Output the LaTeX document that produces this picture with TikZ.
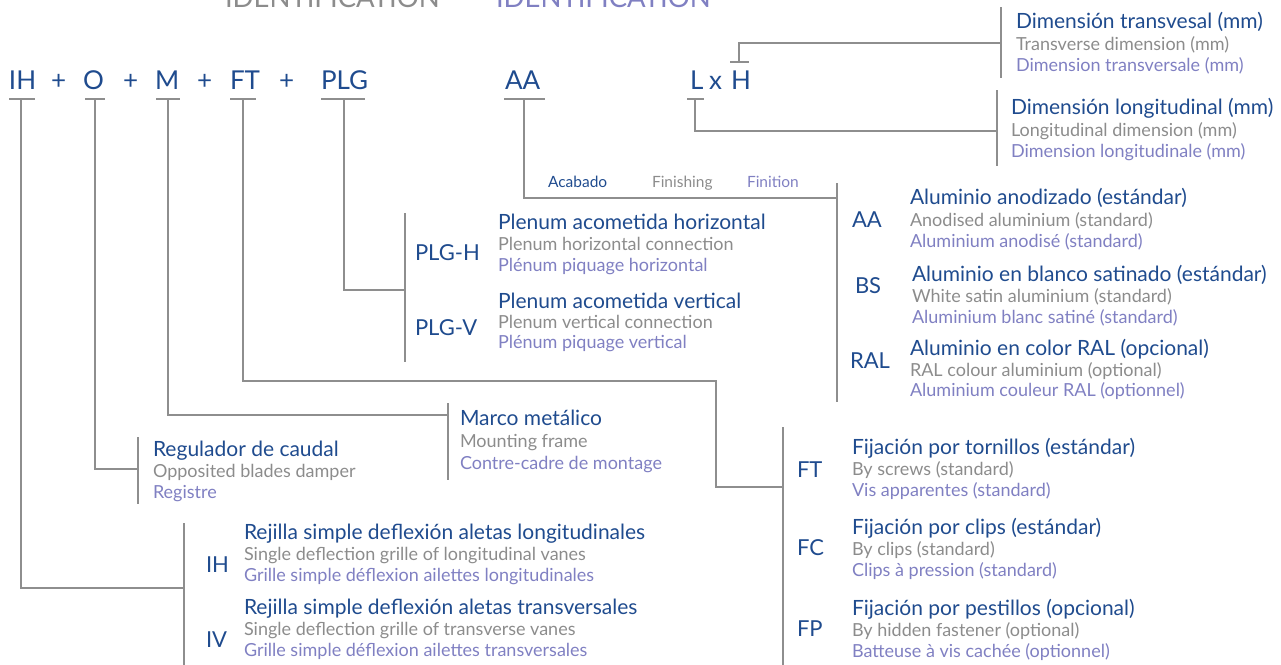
\documentclass[tikz,border=0pt]{standalone}
\usepackage{fontspec}
\setmainfont{Lato}
\definecolor{cblue}{HTML}{1F4B8E}
\definecolor{cgray}{HTML}{8C8C8C}
\definecolor{clav}{HTML}{8080C2}
\definecolor{cline}{HTML}{8E8E8E}
\begin{document}
\begin{tikzpicture}[x=1pt,y=-1pt,
  base/.style={anchor=base west,inner sep=0pt,outer sep=0pt},
  es/.style={base,text=cblue,font=\fontsize{21}{21}\selectfont},
  en/.style={base,text=cgray,font=\fontsize{18}{18}\selectfont},
  fr/.style={base,text=clav,font=\fontsize{18}{18}\selectfont},
  code/.style={base,text=cblue,font=\fontsize{26}{26}\selectfont},
  lab/.style={base,text=cblue,font=\fontsize{22}{22}\selectfont},
  small/.style={base,font=\fontsize{15.5}{15.5}\selectfont},
  ttl/.style={base,font=\fontsize{27.5}{27.5}\selectfont},
  ln/.style={draw=cline,line width=2.8pt,line join=miter}]
\useasboundingbox (0,0) rectangle (1281,664);
\clip (0,0) rectangle (1281,664);

% title (cut off at the top)
\node[ttl,text=cgray] (title1) at (225,7) {IDENTIFICATION};
\node[ttl,text=cgray] (title2) at (443,7) {-};
\node[ttl,text=clav] (title3) at (496,7) {IDENTIFICATION};

% top row of codes
\node[code] (cIH) at (9,89) {IH};
\node[code] (p1) at (51,89) {+};
\node[code] (cO) at (83,89) {O};
\node[code] (p2) at (123,89) {+};
\node[code] (cM) at (155,89) {M};
\node[code] (p3) at (197,89) {+};
\node[code] (cFT) at (230,89) {FT};
\node[code] (p4) at (279,89) {+};
\node[code] (cPLG) at (321,89) {PLG};
\node[code] (cAA) at (505,89) {AA};
\node[code] (cL) at (690,89) {L};
\node[code] (cx) at (709,89) {x};
\node[code] (cH) at (731,89) {H};

% T bars
\coordinate (aIH) at (9,99);   \coordinate (bIH) at (35,99);   \coordinate (sIH) at (21,99);
\coordinate (aO) at (85,99);   \coordinate (bO) at (105,99);   \coordinate (sO) at (95,99);
\coordinate (aM) at (156,99);  \coordinate (bM) at (180,99);   \coordinate (sM) at (168,99);
\coordinate (aFT) at (230,99); \coordinate (bFT) at (256,99);  \coordinate (sFT) at (243,99);
\coordinate (aPLG) at (321,99);\coordinate (bPLG) at (365,99); \coordinate (sPLG) at (344,99);
\coordinate (aAA) at (504,99); \coordinate (bAA) at (545,99);  \coordinate (sAA) at (524,99);
\coordinate (aL) at (687,99);  \coordinate (bL) at (704,99);   \coordinate (sL) at (695,99);
\coordinate (aH) at (730,62);  \coordinate (bH) at (749,62);   \coordinate (sH) at (739,62);
\foreach \n in {IH,O,M,FT,PLG,AA,L,H} {\draw[ln] (a\n) -- (b\n);}

% brackets
\coordinate (tDT) at (1001,7);   \coordinate (uDT) at (1001,78);  \coordinate (jDT) at (1001,43);
\coordinate (tDL) at (997,90);   \coordinate (uDL) at (997,166);  \coordinate (jDL) at (997,131);
\coordinate (tAC) at (837,183);  \coordinate (uAC) at (837,402);  \coordinate (jAC) at (837,198);
\coordinate (tPL) at (405,213);  \coordinate (uPL) at (405,362);  \coordinate (jPL) at (405,290);
\coordinate (tMA) at (448,403);  \coordinate (uMA) at (448,480);  \coordinate (jMA) at (448,415);
\coordinate (tRE) at (138,437);  \coordinate (uRE) at (138,504);  \coordinate (jRE) at (138,469);
\coordinate (tFI) at (783,427);  \coordinate (uFI) at (783,670);  \coordinate (jFI) at (783,487);
\coordinate (tRJ) at (184,523);  \coordinate (uRJ) at (184,670);  \coordinate (jRJ) at (184,588);
\coordinate (kFT) at (716,381);
\foreach \n in {DT,DL,AC,PL,MA,RE,FI,RJ} {\draw[ln] (t\n) -- (u\n);}

% connectors
\draw[ln] (sH) |- (jDT);
\draw[ln] (sL) |- (jDL);
\draw[ln] (sAA) |- (jAC);
\draw[ln] (sPLG) |- (jPL);
\draw[ln] (sM) |- (jMA);
\draw[ln] (sO) |- (jRE);
\draw[ln] (sFT) |- (kFT) |- (jFI);
\draw[ln] (sIH) |- (jRJ);

% dimensions
\node[es] (dt1) at (1016,28) {Dimensión transvesal (mm)};
\node[en] (dt2) at (1016,50) {Transverse dimension (mm)};
\node[fr] (dt3) at (1016,71) {Dimension transversale (mm)};
\node[es] (dl1) at (1011,114) {Dimensión longitudinal (mm)};
\node[en] (dl2) at (1011,136) {Longitudinal dimension (mm)};
\node[fr] (dl3) at (1011,157) {Dimension longitudinale (mm)};

% finishing header
\node[small,text=cblue] (ac1) at (548,187) {Acabado};
\node[small,text=cgray] (ac2) at (652,187) {Finishing};
\node[small,text=clav] (ac3) at (747,187) {Finition};

% plenum
\node[lab] (lPH) at (415,260) {PLG-H};
\node[es] (ph1) at (498,229) {Plenum acometida horizontal};
\node[en] (ph2) at (498,250) {Plenum horizontal connection};
\node[fr] (ph3) at (498,271) {Plénum piquage horizontal};
\node[lab] (lPV) at (415,335) {PLG-V};
\node[es] (pv1) at (498,308) {Plenum acometida vertical};
\node[en] (pv2) at (498,328) {Plenum vertical connection};
\node[fr] (pv3) at (498,348) {Plénum piquage vertical};

% finishes
\node[lab] (lAA) at (852,227) {AA};
\node[es] (aa1) at (910,204) {Aluminio anodizado (estándar)};
\node[en] (aa2) at (910,226) {Anodised aluminium (standard)};
\node[fr] (aa3) at (910,247) {Aluminium anodisé (standard)};
\node[lab] (lBS) at (855,293) {BS};
\node[es] (bs1) at (912,281) {Aluminio en blanco satinado (estándar)};
\node[en] (bs2) at (912,302) {White satin aluminium (standard)};
\node[fr] (bs3) at (912,323) {Aluminium blanc satiné (standard)};
\node[lab] (lRAL) at (850,368) {RAL};
\node[es] (ra1) at (910,355) {Aluminio en color RAL (opcional)};
\node[en] (ra2) at (910,376) {RAL colour aluminium (optional)};
\node[fr] (ra3) at (910,396) {Aluminium couleur RAL (optionnel)};

% frame
\node[es] (ma1) at (460,425) {Marco metálico};
\node[en] (ma2) at (460,447) {Mounting frame};
\node[fr] (ma3) at (460,469) {Contre-cadre de montage};

% damper
\node[es] (re1) at (153,456) {Regulador de caudal};
\node[en] (re2) at (153,477) {Opposited blades damper};
\node[fr] (re3) at (153,498) {Registre};

% fixing
\node[lab] (lFT) at (797,477) {FT};
\node[es] (ft1) at (852,454) {Fijación por tornillos (estándar)};
\node[en] (ft2) at (852,475) {By screws (standard)};
\node[fr] (ft3) at (852,496) {Vis apparentes (standard)};
\node[lab] (lFC) at (797,555) {FC};
\node[es] (fc1) at (852,534) {Fijación por clips (estándar)};
\node[en] (fc2) at (852,555) {By clips (standard)};
\node[fr] (fc3) at (852,576) {Clips à pression (standard)};
\node[lab] (lFP) at (797,636) {FP};
\node[es] (fp1) at (852,615) {Fijación por pestillos (opcional)};
\node[en] (fp2) at (852,636) {By hidden fastener (optional)};
\node[fr] (fp3) at (852,657) {Batteuse à vis cachée (optionnel)};

% grilles
\node[lab] (lIH) at (206,572) {IH};
\node[es] (ih1) at (244,539) {Rejilla simple deflexión aletas longitudinales};
\node[en] (ih2) at (244,560) {Single deflection grille of longitudinal vanes};
\node[fr] (ih3) at (244,581) {Grille simple déflexion ailettes longitudinales};
\node[lab] (lIV) at (206,647) {IV};
\node[es] (iv1) at (244,614) {Rejilla simple deflexión aletas transversales};
\node[en] (iv2) at (244,635) {Single deflection grille of transverse vanes};
\node[fr] (iv3) at (244,656) {Grille simple déflexion ailettes transversales};
\end{tikzpicture}
\end{document}
